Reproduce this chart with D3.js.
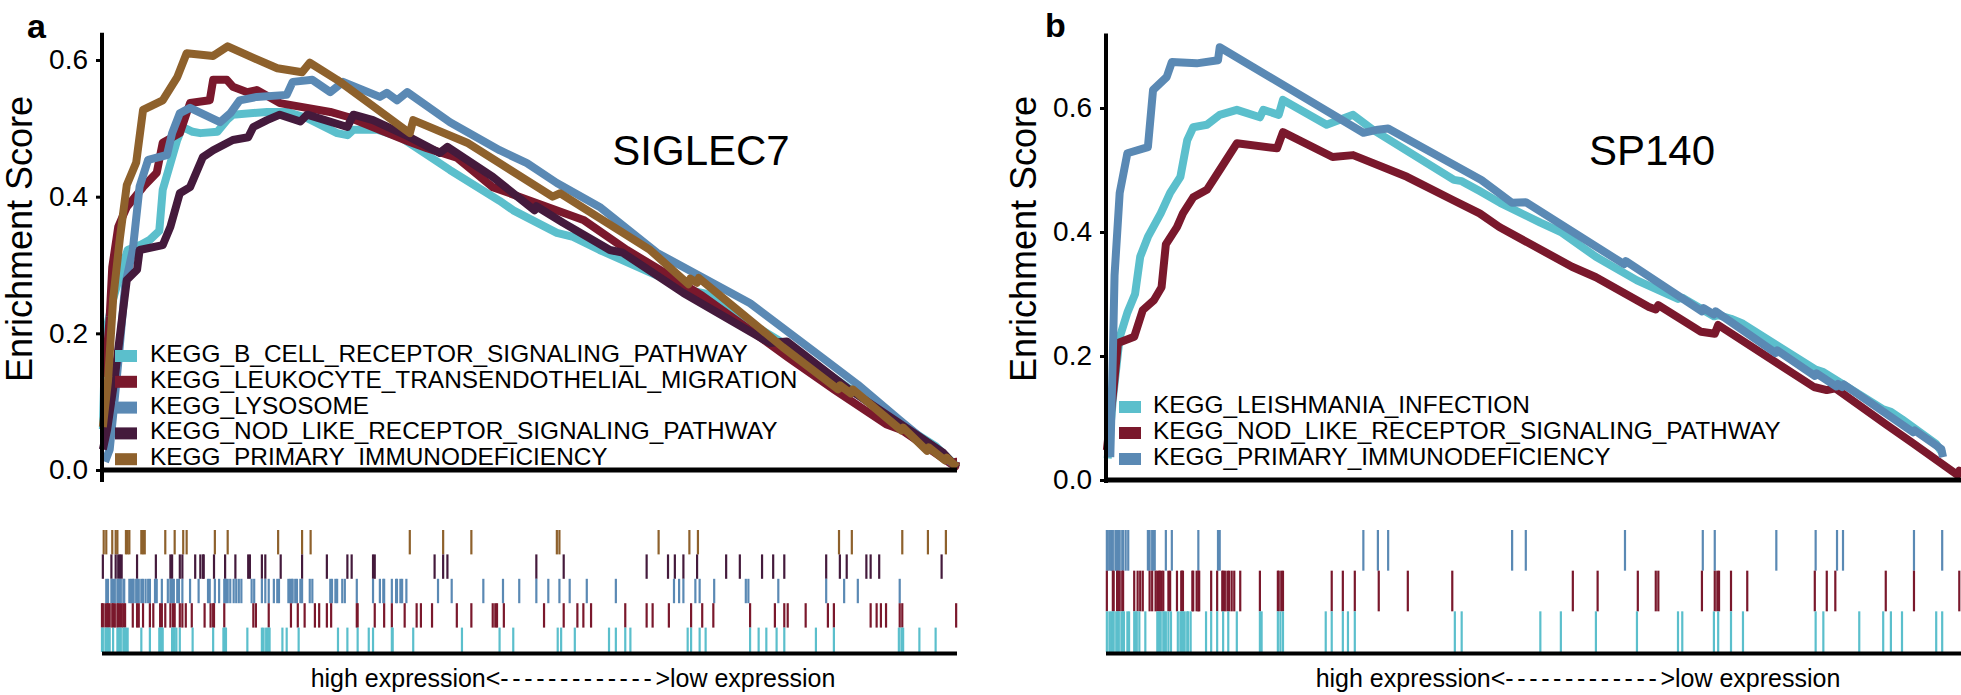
<!DOCTYPE html>
<html><head><meta charset="utf-8">
<script src="https://cdn.jsdelivr.net/npm/d3@7"></script>
<style>
body{margin:0;background:#fff}
svg{display:block}
text{font-family:"Liberation Sans",Arial,Helvetica,sans-serif;fill:#000}
</style>
</head><body>
<svg id="chart" width="1961" height="695"></svg>
<script>
// ---------------- DATA ----------------
// x = position in the ranked gene list (% of list), y = running enrichment score
const yTicksA = [0.0, 0.2, 0.4, 0.6];
const yTicksB = [0.0, 0.2, 0.4, 0.6];
const titleA = "SIGLEC7";
const titleB = "SP140";
const axisLabel = "Enrichment Score";
const bottomLeft = "high expression<";
const bottomDashes = "-------------";
const bottomRight = ">low expression";

const setsA = ["KEGG_B_CELL_RECEPTOR_SIGNALING_PATHWAY","KEGG_LEUKOCYTE_TRANSENDOTHELIAL_MIGRATION","KEGG_LYSOSOME","KEGG_NOD_LIKE_RECEPTOR_SIGNALING_PATHWAY","KEGG_PRIMARY_IMMUNODEFICIENCY"];
const colorsA = ["#5bbfcc","#7a182c","#5a89b4","#441a3c","#8e612c"];
const setsB = ["KEGG_LEISHMANIA_INFECTION","KEGG_NOD_LIKE_RECEPTOR_SIGNALING_PATHWAY","KEGG_PRIMARY_IMMUNODEFICIENCY"];
const colorsB = ["#5bbfcc","#7a182c","#5a89b4"];

// Panel a running ES
const esA_bcell = [[0.1,0.06],[0.4,0.2],[1.3,0.25],[2.2,0.29],[3.0,0.322],[4.6,0.33],[5.6,0.337],[6.7,0.35],[7.1,0.41],[8.8,0.483],[9.4,0.502],[10.6,0.495],[11.5,0.493],[13.5,0.495],[14.6,0.512],[15.3,0.52],[19.3,0.524],[21.6,0.524],[24.0,0.515],[27.5,0.493],[28.7,0.49],[29.4,0.498],[32.2,0.498],[34.9,0.487],[40.7,0.439],[46.5,0.394],[48.1,0.38],[53.2,0.347],[55.1,0.341],[58.2,0.322],[68.8,0.263],[70.6,0.258],[75.8,0.215],[79.8,0.185],[85.6,0.135],[93.7,0.065],[97.5,0.035],[100,0.005]];
const esA_leuko = [[0.35,0.136],[0.9,0.224],[1.2,0.297],[1.9,0.356],[2.9,0.385],[4.8,0.414],[6.4,0.435],[7.1,0.479],[9.1,0.493],[10.3,0.537],[12.6,0.541],[13.0,0.571],[14.6,0.571],[15.3,0.561],[17.0,0.553],[18.1,0.556],[20.8,0.537],[26.7,0.524],[28.7,0.517],[36.0,0.48],[38.0,0.471],[41.5,0.457],[45.7,0.414],[56.3,0.366],[61.4,0.322],[66.3,0.285],[70.2,0.255],[75.8,0.205],[80.2,0.165],[85.6,0.118],[91.7,0.067],[93.6,0.058],[99.8,0.005],[99.9,0.012],[100,0.012]];
const esA_lyso = [[0.35,0.012],[0.9,0.03],[1.3,0.08],[2.0,0.17],[2.7,0.27],[3.6,0.322],[4.4,0.415],[5.4,0.454],[7.6,0.461],[8.2,0.493],[9.1,0.522],[10.3,0.53],[13.8,0.509],[15.0,0.522],[16.1,0.541],[18.1,0.546],[21.6,0.549],[22.3,0.568],[24.6,0.571],[26.7,0.553],[28.2,0.568],[32.5,0.546],[33.3,0.552],[34.5,0.541],[35.7,0.553],[40.7,0.509],[46.5,0.468],[49.7,0.449],[53.2,0.42],[58.2,0.385],[64.9,0.318],[75.8,0.244],[84.7,0.16],[88.4,0.125],[93.3,0.073],[100,0.004]];
const esA_nod = [[0.1,0.03],[0.6,0.059],[1.5,0.136],[2.9,0.278],[4.1,0.293],[4.4,0.322],[7.1,0.329],[8.0,0.356],[9.1,0.405],[10.3,0.414],[11.8,0.458],[13.0,0.468],[15.3,0.483],[17.1,0.487],[17.7,0.502],[19.3,0.512],[20.8,0.52],[23.2,0.51],[24.0,0.52],[28.7,0.502],[29.4,0.52],[31.7,0.512],[36.0,0.487],[39.5,0.464],[40.4,0.473],[45.7,0.429],[50.6,0.38],[50.8,0.386],[53.9,0.362],[59.4,0.322],[60.9,0.318],[68.0,0.259],[78.1,0.186],[80.1,0.188],[87.5,0.117],[98.4,0.025],[100,0.003]];
const esA_pid = [[0.1,0.063],[0.7,0.13],[1.3,0.25],[2.1,0.34],[2.9,0.417],[4.0,0.45],[4.8,0.527],[7.1,0.541],[8.8,0.575],[9.9,0.61],[13.0,0.606],[14.7,0.62],[17.7,0.603],[20.5,0.588],[23.4,0.582],[24.3,0.596],[27.5,0.571],[36.0,0.493],[36.4,0.512],[42.7,0.479],[46.5,0.449],[52.7,0.40],[53.6,0.405],[64.1,0.322],[68.6,0.272],[68.8,0.28],[69.6,0.274],[69.8,0.281],[79.6,0.18],[86.1,0.118],[86.3,0.124],[87.6,0.112],[87.8,0.118],[93.5,0.058],[93.7,0.062],[96.5,0.028],[96.7,0.033],[98.6,0.014],[98.8,0.018],[100,0.004]];

// Panel a hit positions (% of ranked list)
const hitsA_bcell = [0.0,0.1,0.4,0.6,0.7,0.9,1.3,1.8,2.0,2.2,2.5,2.6,2.8,3.0,4.6,5.6,6.7,6.9,7.0,7.1,8.2,8.3,8.5,8.7,9.1,10.6,13.0,14.2,14.4,14.5,17.0,18.7,18.9,19.2,19.4,19.6,21.1,21.6,23.0,27.6,28.7,29.9,31.2,31.7,33.9,34.0,36.4,42.1,46.5,48.1,53.3,53.7,55.3,59.3,60.1,61.2,61.8,68.5,68.9,69.9,70.6,75.8,76.8,77.7,78.9,79.8,83.5,85.6,93.2,93.5,93.7,95.6,97.5];
const hitsA_leuko = [0.0,0.1,0.4,0.6,0.7,0.9,1.2,1.3,1.5,1.8,1.9,2.1,2.3,2.5,2.7,3.6,4.1,4.3,4.8,5.6,6.0,6.8,7.0,7.4,8.0,8.3,8.5,9.1,9.4,9.8,10.5,12.0,12.7,13.0,13.1,14.3,17.7,18.0,19.5,22.1,22.9,23.7,24.9,25.4,26.3,26.8,29.8,29.9,31.9,33.0,33.9,35.4,36.8,37.3,38.6,41.5,43.2,45.7,46.0,46.2,47.0,51.7,54.0,55.6,56.3,57.2,61.2,63.7,64.4,66.3,68.9,70.2,71.5,75.8,78.7,79.8,80.2,82.3,84.9,85.6,89.9,90.6,91.1,91.7,93.3,93.6,99.9];
const hitsA_lyso = [0.5,0.7,1.1,1.3,1.5,1.8,2.0,2.2,2.5,2.6,3.2,3.4,3.6,3.7,4.0,4.1,4.3,4.6,4.8,5.1,5.4,5.6,6.2,6.4,7.0,7.7,8.0,8.2,8.4,8.8,9.0,9.4,10.3,11.3,12.4,12.6,13.2,13.7,14.3,14.5,14.7,15.0,15.4,15.7,16.0,16.3,17.5,17.8,18.7,19.1,19.5,20.1,20.5,20.7,21.8,22.0,22.2,22.3,22.6,22.8,23.2,23.4,24.3,24.6,26.7,26.9,27.3,27.5,28.1,28.4,29.8,31.7,32.5,32.9,33.0,33.9,34.4,34.5,34.9,35.1,35.6,39.3,40.9,44.6,46.9,48.8,50.8,52.2,53.5,54.7,56.7,60.1,66.9,67.5,68.0,69.4,69.9,71.6,75.3,75.6,79.1,84.7,86.8,88.4,93.3];
const hitsA_nod = [0.1,1.1,1.6,1.9,2.1,2.3,4.1,6.3,8.0,8.2,9.1,9.4,10.9,11.5,11.8,11.9,13.1,14.4,15.6,17.1,17.3,18.7,19.1,20.9,23.4,26.3,28.7,29.2,31.7,31.9,38.9,39.9,40.4,50.8,54.0,63.7,66.2,67.0,68.0,69.6,73.0,74.6,77.2,78.5,79.8,84.7,86.3,87.1,89.4,89.9,90.9,98.2];
const hitsA_pid = [0.2,0.5,1.2,1.6,1.8,2.8,3.0,3.2,4.6,4.8,5.0,7.4,8.5,9.5,9.9,13.2,14.7,20.6,23.4,24.4,36.0,39.9,43.2,53.2,53.5,65.1,68.7,69.7,86.2,87.7,93.6,96.6,98.7];

// Panel b running ES
const esB_leish = [[0.2,0.035],[0.8,0.13],[1.6,0.23],[2.5,0.27],[3.4,0.30],[4.0,0.36],[4.9,0.392],[6.4,0.43],[7.5,0.463],[8.7,0.489],[9.5,0.548],[10.2,0.569],[11.8,0.573],[13.3,0.589],[15.3,0.597],[18.0,0.585],[18.4,0.597],[20.2,0.589],[20.7,0.613],[25.8,0.573],[28.9,0.589],[31.2,0.565],[40.7,0.484],[41.6,0.482],[43.7,0.466],[46.1,0.447],[50.8,0.415],[53.2,0.4],[57.3,0.36],[62.1,0.322],[66.9,0.292],[67.4,0.294],[71.1,0.264],[71.6,0.266],[73.1,0.26],[74.5,0.252],[83.0,0.178],[83.9,0.174],[88.1,0.138],[90.9,0.114],[91.8,0.11],[93.1,0.098],[97.1,0.058],[97.8,0.044]];
const esB_nod = [[0.1,0.048],[0.9,0.15],[1.4,0.221],[3.3,0.231],[4.3,0.274],[5.6,0.29],[6.5,0.311],[7.0,0.38],[8.3,0.408],[9.0,0.43],[10.2,0.456],[11.8,0.468],[13.3,0.5],[15.3,0.543],[20.0,0.535],[20.7,0.561],[26.5,0.521],[28.9,0.524],[35.2,0.489],[40.5,0.452],[43.7,0.43],[46.0,0.408],[54.5,0.344],[57.3,0.327],[63.5,0.279],[64.3,0.275],[64.6,0.282],[69.6,0.239],[71.2,0.236],[71.6,0.25],[82.8,0.15],[84.3,0.145],[85.3,0.148],[91.2,0.09],[94.3,0.06],[99.6,0.008],[99.8,0.015],[100,0.011]];
const esB_pid = [[0.5,0.037],[0.8,0.2],[1.0,0.33],[1.6,0.463],[2.5,0.527],[4.9,0.537],[5.5,0.629],[7.1,0.65],[7.7,0.674],[10.6,0.672],[13.1,0.677],[13.3,0.698],[30.1,0.56],[31.8,0.565],[33.0,0.567],[43.9,0.484],[47.5,0.447],[49.1,0.448],[60.6,0.348],[60.8,0.353],[69.7,0.272],[69.9,0.277],[71.1,0.267],[71.3,0.272],[78.3,0.205],[78.5,0.209],[82.9,0.168],[83.1,0.172],[85.4,0.151],[85.6,0.155],[86.1,0.15],[86.3,0.154],[94.4,0.077],[94.6,0.08],[97.7,0.05],[97.9,0.037]];

// Panel b hit positions
const hitsB_leish = [0.1,0.4,0.6,0.8,0.9,1.2,1.4,1.5,1.8,2.0,2.1,2.5,2.7,3.3,3.5,3.6,3.9,4.6,6.0,6.2,6.4,6.7,6.8,7.0,7.3,7.6,8.4,8.7,8.9,9.0,9.2,9.5,9.6,9.9,11.7,12.3,13.0,13.7,14.3,15.3,18.0,18.2,20.1,20.4,20.7,25.7,26.4,27.7,28.3,29.1,40.8,41.6,50.8,53.2,57.3,62.1,66.9,67.4,71.1,71.6,73.1,74.5,83.0,83.9,88.1,90.9,91.8,93.1,97.1,97.8];
const hitsB_nod = [0.1,0.8,0.9,1.3,1.4,1.6,1.9,2.0,3.3,3.7,4.0,4.3,5.1,5.4,5.8,6.0,6.2,6.3,6.5,6.7,7.3,7.5,8.3,8.8,8.9,9.0,10.1,10.2,10.6,10.8,10.9,12.3,13.0,13.6,13.7,13.9,14.2,14.4,14.7,15.0,15.7,18.0,20.1,20.2,20.5,20.7,26.4,27.7,29.1,31.9,35.3,40.5,54.6,57.5,62.2,64.3,64.6,69.7,71.2,71.5,71.7,73.1,75.0,82.9,84.3,85.3,91.2,94.5,99.8];
const hitsB_pid = [0.1,0.2,0.4,0.6,0.7,0.8,1.1,1.2,1.3,1.5,1.6,1.9,2.0,2.3,2.6,4.9,5.1,5.4,5.5,5.7,7.0,7.7,10.8,13.1,13.3,30.1,31.8,33.0,47.5,49.1,60.7,69.8,71.2,78.4,83.0,85.5,86.2,94.5,97.8];

// ---------------- DRAW ----------------
const svg = d3.select("#chart");
const FONT = '"Liberation Sans",Arial,Helvetica,sans-serif';

const panels = [
  {label:"a", lx:27, ly:38, title:titleA, tx:701, names:setsA, colors:colorsA,
   es:[esA_bcell,esA_leuko,esA_lyso,esA_nod,esA_pid],
   hits:[hitsA_bcell,hitsA_leuko,hitsA_lyso,hitsA_nod,hitsA_pid],
   ticks:yTicksA, x0:102, x1:957, yMax:0.64, y0px:470, pxPerUnit:683.3, yAxisBottom:482,
   ylabX:32, legSqX:115, legTextX:150, legBase:362, legStep:25.8,
   rugTop:530, rugBot:652, textCx:573},
  {label:"b", lx:1045, ly:37, title:titleB, tx:1652, names:setsB, colors:colorsB,
   es:[esB_leish,esB_nod,esB_pid],
   hits:[hitsB_leish,hitsB_nod,hitsB_pid],
   ticks:yTicksB, x0:1106, x1:1961, yMax:0.72, y0px:480, pxPerUnit:620, yAxisBottom:483,
   ylabX:1036, legSqX:1119, legTextX:1153, legBase:413, legStep:26,
   rugTop:530, rugBot:652, textCx:1578}
];

panels.forEach(P => {
  const g = svg.append("g");
  const x = d3.scaleLinear().domain([0,100]).range([P.x0, P.x1]);
  const y = d3.scaleLinear().domain([0,P.yMax]).range([P.y0px, P.y0px - P.yMax*P.pxPerUnit]);

  // panel label
  g.append("text").attr("x",P.lx).attr("y",P.ly).attr("font-size",34).attr("font-weight","bold").text(P.label);

  // curves
  const line = d3.line().x(d=>x(d[0])).y(d=>y(d[1]));
  P.es.forEach((s,i)=>{
    g.append("path").datum(s).attr("d",line).attr("fill","none")
      .attr("stroke",P.colors[i]).attr("stroke-width",8)
      .attr("stroke-linejoin","round").attr("stroke-linecap","butt");
  });

  // y axis
  const ax = d3.axisLeft(y).tickValues(P.ticks).tickFormat(d3.format(".1f")).tickSize(6).tickPadding(8);
  const axg = g.append("g").attr("transform",`translate(${P.x0},0)`).call(ax);
  axg.select(".domain").remove();
  axg.selectAll(".tick line").attr("stroke","#000").attr("stroke-width",3);
  axg.selectAll(".tick text").attr("font-size",28).attr("font-family",FONT).attr("fill","#000");
  g.append("line").attr("x1",P.x0).attr("x2",P.x0).attr("y1",y(P.yMax)).attr("y2",P.yAxisBottom)
    .attr("stroke","#000").attr("stroke-width",4);
  // x axis line
  g.append("line").attr("x1",P.x0-2).attr("x2",P.x1).attr("y1",y(0)).attr("y2",y(0))
    .attr("stroke","#000").attr("stroke-width",5);

  // y label
  g.append("text").attr("transform",`translate(${P.ylabX},239) rotate(-90)`)
    .attr("text-anchor","middle").attr("font-size",36).text(axisLabel);

  // title
  g.append("text").attr("x",P.tx).attr("y",165).attr("text-anchor","middle").attr("font-size",42).text(P.title);

  // legend
  P.names.forEach((n,i)=>{
    const b = P.legBase + i*P.legStep;
    g.append("rect").attr("x",P.legSqX).attr("y",b-12).attr("width",22).attr("height",12).attr("fill",P.colors[i]);
    g.append("text").attr("x",P.legTextX).attr("y",b).attr("font-size",24.4).text(n);
  });

  // rug (rows top to bottom: reverse legend order)
  const order = d3.range(P.names.length).reverse();
  const band = d3.scaleBand().domain(order).range([P.rugTop, P.rugBot]).padding(0);
  order.forEach(i=>{
    g.append("g").selectAll("line").data(P.hits[i]).join("line")
      .attr("x1",d=>x(d)).attr("x2",d=>x(d))
      .attr("y1",band(i)).attr("y2",band(i)+band.bandwidth())
      .attr("stroke",P.colors[i]).attr("stroke-width",2.2);
  });
  g.append("line").attr("x1",P.x0).attr("x2",P.x1).attr("y1",P.rugBot+1.5).attr("y2",P.rugBot+1.5)
    .attr("stroke","#000").attr("stroke-width",4);

  // bottom text
  const t = g.append("text").attr("x",P.textCx).attr("y",687).attr("text-anchor","middle").attr("font-size",25);
  t.append("tspan").text(bottomLeft);
  t.append("tspan").attr("letter-spacing",3.6).text(bottomDashes);
  t.append("tspan").text(bottomRight);
});
</script>
</body></html>
